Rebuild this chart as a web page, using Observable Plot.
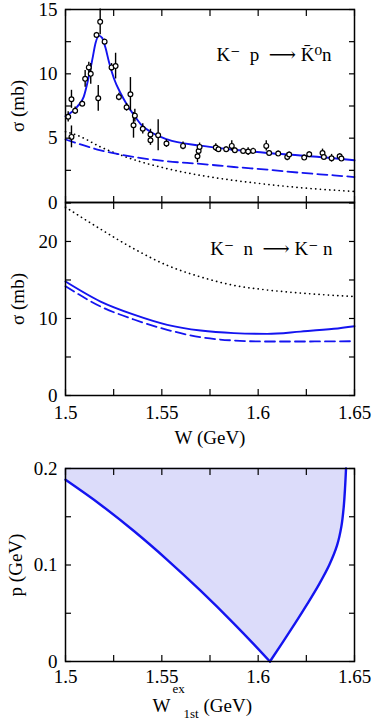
<!DOCTYPE html>
<html>
<head>
<meta charset="utf-8">
<script src="https://cdn.jsdelivr.net/npm/d3@7"></script>
<script src="https://cdn.jsdelivr.net/npm/@observablehq/plot@0.6"></script>
<style>
  html, body { margin: 0; padding: 0; background: white; }
  #chart { width: 374px; }
  #chart svg { display: block; }
  #chart svg, #chart svg text { font-family: "Liberation Serif", "Times New Roman", "DejaVu Serif", serif !important; }
</style>
</head>
<body>
<div id="chart"></div>
<script>
// ---------- Data ----------
// Top panel: K- p -> K0bar n, data points
const expW = [1.5014, 1.5031, 1.5031, 1.5050, 1.5087, 1.5102, 1.5121, 1.5131, 1.5161, 1.5170, 1.5180, 1.5203, 1.5239, 1.5260, 1.5277, 1.5317, 1.5337, 1.5353, 1.5360, 1.5401, 1.5441, 1.5441, 1.5481, 1.5524, 1.5610, 1.5685, 1.5691, 1.5696, 1.5780, 1.5794, 1.5834, 1.5863, 1.5879, 1.5922, 1.5948, 1.5974, 1.6042, 1.6057, 1.6104, 1.6151, 1.6161, 1.6239, 1.6265, 1.6334, 1.6341, 1.6381, 1.6423, 1.6432];
const expSigma = [6.66, 8.02, 5.10, 7.13, 7.68, 9.61, 10.50, 10.00, 13.02, 8.10, 14.04, 12.50, 10.50, 10.60, 8.20, 7.40, 8.41, 6.00, 6.75, 5.73, 4.84, 5.29, 5.23, 4.58, 4.40, 3.59, 4.00, 4.32, 4.27, 4.14, 4.14, 4.40, 4.06, 4.01, 3.96, 4.01, 4.40, 3.85, 3.80, 3.54, 3.73, 3.49, 3.75, 3.85, 3.54, 3.44, 3.59, 3.41];
const expErr = [0.4, 0.7, 0.85, 0.3, 0.2, 0.65, 0.4, 0.8, 0.2, 1.0, 1.0, 0.2, 0.3, 1.0, 0.3, 0.3, 1.3, 1.0, 0.5, 0.4, 0.4, 0.4, 1.2, 0.3, 0.3, 0.5, 0.3, 0.3, 0.3, 0.2, 0.2, 0.4, 0.2, 0.2, 0.3, 0.2, 0.4, 0.2, 0.2, 0.3, 0.2, 0.2, 0.2, 0.3, 0.2, 0.3, 0.2, 0.2];

// Top panel curves
const topSolidW = [1.5, 1.5061, 1.5095, 1.5121, 1.5139, 1.5156, 1.5173, 1.519, 1.5208, 1.5225, 1.5251, 1.5286, 1.532, 1.5355, 1.539, 1.5441, 1.5528, 1.5701, 1.5874, 1.6047, 1.622, 1.6393, 1.65];
const topSolidS = [6.7, 7.45, 8.23, 9.8, 11.1, 12.4, 12.97, 12.8, 12.0, 10.96, 9.66, 8.49, 7.58, 6.8, 6.1, 5.5, 4.9, 4.42, 4.1, 3.85, 3.65, 3.44, 3.28];
const topDashW = [1.5, 1.5182, 1.5355, 1.5528, 1.5701, 1.5874, 1.6047, 1.622, 1.6393, 1.65];
const topDashS = [4.9, 4.06, 3.54, 3.2, 3.0, 2.76, 2.55, 2.31, 2.11, 1.98];
const topDotW = [1.5, 1.506, 1.5182, 1.5355, 1.5528, 1.5701, 1.5874, 1.6047, 1.622, 1.65];
const topDotS = [5.5, 5.23, 4.32, 3.33, 2.63, 2.11, 1.72, 1.41, 1.15, 0.86];

// Middle panel: K- n -> K- n
const midW = [1.5, 1.5182, 1.5355, 1.5528, 1.5701, 1.5874, 1.6047, 1.622, 1.6393, 1.65];
const midSolid = [14.8, 12.2, 10.5, 9.18, 8.44, 8.1, 8.0, 8.3, 8.66, 9.0];
const midDash = [14.2, 11.56, 9.87, 8.53, 7.57, 7.14, 7.01, 7.01, 7.03, 7.05];
const midDot = [24.45, 21.6, 19.05, 16.9, 15.4, 14.3, 13.7, 13.3, 13.0, 12.85];

// Bottom panel: p vs W^ex_1st
// left branch: p as a function of W
const leftW = [1.5, 1.5182, 1.5355, 1.5528, 1.5701, 1.5874, 1.5978, 1.6061];
const leftP = [0.1883, 0.1625, 0.1352, 0.1054, 0.0734, 0.0393, 0.0178, 0.0];
// right branch: W as a function of p
const rightP = [0, 0.02, 0.04, 0.06, 0.08, 0.10, 0.12, 0.14, 0.16, 0.18, 0.20];
const rightW = [1.6061, 1.6128, 1.6193, 1.6256, 1.6316, 1.6369, 1.6409, 1.6432, 1.6444, 1.6451, 1.6456];

// Ticks and labels
const xTickMarks = [1.5, 1.525, 1.55, 1.575, 1.6, 1.625, 1.65];
const xTickLabels = [1.5, 1.55, 1.6, 1.65];
const topYTickMarks = [0, 2.5, 5, 7.5, 10, 12.5, 15];
const topYTickLabels = [0, 5, 10, 15];
const midYTickMarks = [0, 5, 10, 15, 20, 25];
const midYTickLabels = [0, 10, 20];
const botYTickMarks = [0, 0.05, 0.1, 0.15, 0.2];
const botYTickLabels = [0, 0.1, 0.2];
const topReaction = "K\u207B  p  \u27F6 K\u0304\u2070n";
const midReaction = "K\u207B  n  \u27F6 K\u207B n";
const sigmaLabel = "\u03C3 (mb)";
const pLabel = "p (GeV)";
const wLabel = "W (GeV)";

// ---------- Build tables ----------
const expData = expW.map((w, i) => ({w, s: expSigma[i], e: expErr[i]}));
const zip = (xs, ys) => xs.map((x, i) => ({x, y: ys[i]}));
const topSolid = zip(topSolidW, topSolidS);
const topDash = zip(topDashW, topDashS);
const topDot = zip(topDotW, topDotS);
const midSolidD = zip(midW, midSolid);
const midDashD = zip(midW, midDash);
const midDotD = zip(midW, midDot);
const leftBranch = zip(leftW, leftP);
const rightBranch = zip(rightW, rightP);
const cuspW = rightW[0];

const BLUE = "#1414f0";
const FILL = "#dcdcfa";
const FONT = "Liberation Serif";
const W = 374, ML = 65, MR = 20;
const xDomain = [1.5, 1.65];

function tickAxes(yMarks) {
  return [
    Plot.axisX(xTickMarks, {anchor: "bottom", tickSize: 6, dy: -6, tickFormat: () => "", label: null, strokeWidth: 1.2}),
    Plot.axisX(xTickMarks, {anchor: "top", tickSize: 6, dy: 6, tickFormat: () => "", label: null, strokeWidth: 1.2}),
    Plot.axisY(yMarks, {anchor: "left", tickSize: 6, dx: 6, tickFormat: () => "", label: null, strokeWidth: 1.2}),
    Plot.axisY(yMarks, {anchor: "right", tickSize: 6, dx: -6, tickFormat: () => "", label: null, strokeWidth: 1.2})
  ];
}
const svgStyle = `font-family: "${FONT}", serif; font-size: 19px; overflow: visible; background: transparent; color: black;`;

// ---------- Panel 1 ----------
const p1 = Plot.plot({
  width: W, height: 202,
  marginLeft: ML, marginRight: MR, marginTop: 9, marginBottom: 0,
  style: svgStyle,
  x: {domain: xDomain},
  y: {domain: [0, 15]},
  marks: [
    Plot.line(topDot, {x: "x", y: "y", stroke: "black", strokeWidth: 1.7, strokeDasharray: "0.1,4.6", strokeLinecap: "round", curve: "monotone-x"}),
    Plot.line(topDash, {x: "x", y: "y", stroke: BLUE, strokeWidth: 1.8, strokeDasharray: "10,5", curve: "monotone-x"}),
    Plot.line(topSolid, {x: "x", y: "y", stroke: BLUE, strokeWidth: 1.9, curve: "monotone-x"}),
    Plot.ruleX(expData, {x: "w", y1: d => d.s - d.e, y2: d => d.s + d.e, stroke: "black", strokeWidth: 1.4}),
    Plot.dot(expData, {x: "w", y: "s", r: 2.4, stroke: "black", strokeWidth: 1.2, fill: "white"}),
    ...tickAxes(topYTickMarks),
    Plot.axisY(topYTickLabels, {anchor: "left", tickSize: 0, tickPadding: 8, tickFormat: d => String(d), label: null}),
    Plot.text([topReaction], {frameAnchor: "top-right", dx: -23, dy: 45, textAnchor: "end", lineAnchor: "middle", fontSize: 19}),
    Plot.text([sigmaLabel], {frameAnchor: "left", dx: -48, rotate: -90, textAnchor: "middle", lineAnchor: "middle", fontSize: 19}),
    Plot.frame({stroke: "black", strokeWidth: 1.5})
  ]
});

// ---------- Panel 2 ----------
const p2 = Plot.plot({
  width: W, height: 260,
  marginLeft: ML, marginRight: MR, marginTop: 0, marginBottom: 67,
  style: svgStyle,
  x: {domain: xDomain},
  y: {domain: [0, 25.06]},
  marks: [
    Plot.line(midDotD, {x: "x", y: "y", stroke: "black", strokeWidth: 1.7, strokeDasharray: "0.1,4.6", strokeLinecap: "round", curve: "monotone-x"}),
    Plot.line(midDashD, {x: "x", y: "y", stroke: BLUE, strokeWidth: 1.8, strokeDasharray: "10,5", curve: "monotone-x"}),
    Plot.line(midSolidD, {x: "x", y: "y", stroke: BLUE, strokeWidth: 1.9, curve: "monotone-x"}),
    ...tickAxes(midYTickMarks),
    Plot.axisY(midYTickLabels, {anchor: "left", tickSize: 0, tickPadding: 8, tickFormat: d => String(d), label: null}),
    Plot.axisX(xTickLabels, {anchor: "bottom", tickSize: 0, tickPadding: 10, tickFormat: d => String(d), label: null}),
    Plot.text([midReaction], {frameAnchor: "top-right", dx: -22, dy: 46, textAnchor: "end", lineAnchor: "middle", fontSize: 19}),
    Plot.text([sigmaLabel], {frameAnchor: "left", dx: -48, rotate: -90, textAnchor: "middle", lineAnchor: "middle", fontSize: 19}),
    Plot.text([wLabel], {frameAnchor: "bottom", dy: 42, textAnchor: "middle", lineAnchor: "middle", fontSize: 19}),
    Plot.frame({stroke: "black", strokeWidth: 1.5})
  ]
});

// ---------- Panel 3 ----------
const p3 = Plot.plot({
  width: W, height: 262,
  marginLeft: ML, marginRight: MR, marginTop: 6, marginBottom: 63,
  style: svgStyle,
  x: {domain: xDomain},
  y: {domain: [0, 0.2]},
  marks: [
    Plot.areaY(leftBranch, {x: "x", y1: "y", y2: () => 0.2, fill: FILL, stroke: FILL, strokeWidth: 1.2, curve: "monotone-x"}),
    Plot.areaX(rightBranch, {y: "y", x1: () => cuspW, x2: "x", fill: FILL, stroke: FILL, strokeWidth: 1.2, curve: "monotone-y"}),
    Plot.line(leftBranch, {x: "x", y: "y", stroke: BLUE, strokeWidth: 2.4, curve: "monotone-x"}),
    Plot.line(rightBranch, {x: "x", y: "y", stroke: BLUE, strokeWidth: 2.4, curve: "monotone-y"}),
    ...tickAxes(botYTickMarks),
    Plot.axisY(botYTickLabels, {anchor: "left", tickSize: 0, tickPadding: 8, tickFormat: d => String(d), label: null}),
    Plot.axisX(xTickLabels, {anchor: "bottom", tickSize: 0, tickPadding: 8, tickFormat: d => String(d), label: null}),
    Plot.text([pLabel], {frameAnchor: "left", dx: -50, rotate: -90, textAnchor: "middle", lineAnchor: "middle", fontSize: 19}),
    Plot.text(["W"], {frameAnchor: "bottom-left", dx: 87, dy: 44, textAnchor: "start", lineAnchor: "middle", fontSize: 19}),
    Plot.text(["ex"], {frameAnchor: "bottom-left", dx: 107, dy: 27, textAnchor: "start", lineAnchor: "middle", fontSize: 13}),
    Plot.text(["1st"], {frameAnchor: "bottom-left", dx: 118, dy: 52, textAnchor: "start", lineAnchor: "middle", fontSize: 13}),
    Plot.text(["(GeV)"], {frameAnchor: "bottom-left", dx: 138, dy: 44, textAnchor: "start", lineAnchor: "middle", fontSize: 19}),
    Plot.frame({stroke: "black", strokeWidth: 1.5})
  ]
});

const chart = document.getElementById("chart");
chart.appendChild(p1);
chart.appendChild(p2);
chart.appendChild(p3);
</script>
</body>
</html>
